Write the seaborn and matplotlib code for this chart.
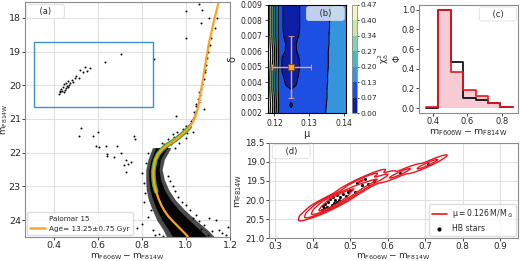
import matplotlib
matplotlib.use("Agg")
import matplotlib.pyplot as plt
import seaborn as sns
import numpy as np
from matplotlib.lines import Line2D
from matplotlib.patches import Rectangle

sns.set_style("whitegrid", {"axes.edgecolor": "0.55", "grid.color": "0.88",
                            "xtick.bottom": True, "ytick.left": True})
plt.rcParams.update({"xtick.major.size": 2.5, "ytick.major.size": 2.5,
                     "xtick.major.width": 0.6, "ytick.major.width": 0.6,
                     "xtick.major.pad": 1.5, "ytick.major.pad": 1.5,
                     "axes.linewidth": 0.8, "mathtext.default": "regular"})

# ---------------- panel (a): CMD of Palomar 15 ----------------
iso_color = [1.150, 1.128, 1.105, 1.090, 1.075, 1.063, 1.053, 1.042, 1.031, 1.016,
             0.994, 0.975, 0.957, 0.935, 0.912, 0.892, 0.875, 0.862, 0.855, 0.852,
             0.853, 0.857, 0.865, 0.875, 0.888, 0.904, 0.922, 0.942, 0.963, 0.986, 1.008]
iso_mag = [17.50, 18.06, 18.74, 19.30, 19.92, 20.35, 20.70, 20.95, 21.10, 21.24,
           21.39, 21.50, 21.59, 21.69, 21.79, 21.90, 22.03, 22.20, 22.40, 22.57,
           22.75, 22.96, 23.15, 23.35, 23.55, 23.74, 23.90, 24.04, 24.18, 24.33, 24.48]

# dense main sequence: outer and core envelopes
ms_mag = [21.85, 22.2, 22.5, 22.8, 23.1, 23.4, 23.7, 24.0, 24.3, 24.5]
ms_blue = [0.848, 0.828, 0.818, 0.818, 0.820, 0.830, 0.848, 0.868, 0.898, 0.912]
ms_red = [0.932, 0.902, 0.892, 0.902, 0.922, 0.952, 0.995, 1.045, 1.100, 1.130]
core_blue = [0.862, 0.842, 0.832, 0.832, 0.837, 0.850, 0.868, 0.892, 0.922, 0.940]
core_red = [0.915, 0.884, 0.878, 0.885, 0.902, 0.930, 0.968, 1.015, 1.065, 1.095]

# horizontal branch stars (shared by panels a and d)
hb_color = [0.707, 0.633, 0.564, 0.540, 0.549, 0.531, 0.518, 0.513, 0.500, 0.495,
            0.482, 0.473, 0.465, 0.464, 0.460, 0.451, 0.447, 0.442, 0.438, 0.433,
            0.427, 0.424, 0.455, 0.470, 0.445, 0.430, 0.490, 0.458]
hb_mag = [19.06, 19.30, 19.49, 19.45, 19.58, 19.60, 19.55, 19.78, 19.73, 19.79,
          19.84, 19.92, 19.88, 20.05, 20.01, 20.14, 19.97, 20.05, 20.18, 20.11,
          20.16, 20.27, 19.93, 20.00, 20.20, 20.20, 19.90, 20.08]

rgb_color = [1.030, 1.040, 1.045, 1.050, 1.060, 1.055, 1.065, 1.070, 1.060, 1.080,
             1.085, 1.090, 1.095, 1.100, 1.110, 1.115, 1.130, 1.140, 1.020, 1.000,
             1.035, 0.957, 1.068, 1.075, 1.000, 1.060, 1.105, 1.000, 1.098, 1.083,
             1.045, 1.025, 1.072, 1.088, 0.855, 1.038, 1.048, 1.058, 1.022, 1.012]
rgb_mag = [21.00, 20.85, 20.75, 20.60, 20.50, 20.40, 20.30, 20.10, 20.20, 19.80,
           19.60, 19.40, 19.20, 19.00, 18.80, 18.60, 18.30, 18.00, 21.15, 21.20,
           20.95, 20.90, 18.16, 17.76, 17.80, 17.60, 18.00, 18.60, 18.84, 20.70,
           20.55, 21.05, 19.95, 19.55, 19.21, 20.80, 20.62, 20.45, 21.12, 21.28]

field_color = [0.525, 0.513, 0.577, 0.600, 0.592, 0.607, 0.641, 0.644, 0.689, 0.674,
               0.726, 0.736, 0.718, 0.763, 0.770, 0.637, 0.707, 0.751, 0.730]
field_mag = [21.26, 21.49, 21.50, 21.39, 21.79, 21.83, 22.03, 22.10, 21.79, 22.13,
             22.23, 22.34, 22.37, 21.49, 21.59, 21.79, 22.01, 22.27, 22.57]

edge_color = [1.060, 1.083, 1.120, 1.165, 1.105, 1.135, 1.046, 1.150, 1.180, 1.100,
              1.070, 1.020, 1.000, 0.980, 1.030, 0.965, 0.950, 0.940, 0.930, 0.920,
              0.778, 0.808, 0.830, 0.800, 0.850, 0.860, 0.810, 0.800, 0.820, 0.830,
              0.815, 0.840, 0.940, 0.970, 0.920, 0.900, 1.000, 0.985, 0.950, 0.880,
              0.960, 1.020, 1.030, 1.190, 0.880, 0.895, 0.925, 0.945, 0.965, 0.985,
              0.905, 0.890, 0.870, 0.862, 0.955, 0.932, 1.005, 0.915]
edge_mag = [24.04, 24.14, 24.33, 24.38, 23.94, 23.99, 23.84, 24.28, 24.45, 24.45,
            24.25, 23.70, 23.55, 23.45, 23.95, 23.30, 23.15, 23.00, 22.85, 22.70,
            24.24, 23.45, 23.90, 24.10, 24.30, 24.45, 22.90, 22.60, 22.30, 22.00,
            23.20, 23.70, 21.45, 21.70, 21.60, 21.75, 21.55, 21.30, 21.85, 21.90,
            21.40, 21.25, 21.40, 24.20, 24.40, 24.48, 21.68, 21.52, 21.48, 21.36,
            21.80, 21.70, 21.95, 22.10, 21.62, 21.75, 21.42, 21.86]

# ---------------- panel (b): chi2 map ----------------
mu_grid = [0.1180, 0.1187, 0.1193, 0.1199, 0.1205, 0.1212, 0.1222, 0.1233,
           0.1248, 0.1262, 0.1272, 0.1290, 0.1320, 0.1355, 0.1405]
delta_grid = [0.0020, 0.0025, 0.0030, 0.0035, 0.0040, 0.0045, 0.0050, 0.0055,
              0.0060, 0.0065, 0.0070, 0.0075, 0.0080, 0.0085, 0.0090]
chi2 = [
    [0.46, 0.41, 0.35, 0.28, 0.20, 0.130, 0.092, 0.082, 0.078, 0.082, 0.090, 0.102, 0.120, 0.138, 0.160],
    [0.46, 0.42, 0.36, 0.29, 0.21, 0.135, 0.090, 0.080, 0.062, 0.080, 0.088, 0.100, 0.119, 0.137, 0.160],
    [0.46, 0.41, 0.35, 0.28, 0.20, 0.130, 0.090, 0.080, 0.075, 0.080, 0.088, 0.100, 0.118, 0.136, 0.160],
    [0.46, 0.40, 0.33, 0.26, 0.19, 0.125, 0.088, 0.074, 0.068, 0.074, 0.087, 0.100, 0.118, 0.136, 0.160],
    [0.46, 0.40, 0.33, 0.26, 0.19, 0.125, 0.080, 0.062, 0.052, 0.062, 0.080, 0.100, 0.118, 0.135, 0.160],
    [0.46, 0.40, 0.33, 0.26, 0.19, 0.125, 0.070, 0.054, 0.046, 0.054, 0.072, 0.100, 0.118, 0.135, 0.160],
    [0.46, 0.41, 0.34, 0.27, 0.20, 0.128, 0.062, 0.048, 0.042, 0.050, 0.066, 0.099, 0.117, 0.134, 0.160],
    [0.46, 0.42, 0.36, 0.29, 0.21, 0.132, 0.064, 0.050, 0.044, 0.052, 0.068, 0.099, 0.117, 0.134, 0.160],
    [0.46, 0.42, 0.36, 0.29, 0.21, 0.130, 0.080, 0.064, 0.054, 0.064, 0.080, 0.100, 0.117, 0.134, 0.160],
    [0.46, 0.41, 0.34, 0.27, 0.20, 0.127, 0.082, 0.066, 0.056, 0.066, 0.080, 0.100, 0.117, 0.133, 0.160],
    [0.46, 0.40, 0.33, 0.26, 0.19, 0.125, 0.074, 0.056, 0.048, 0.055, 0.070, 0.098, 0.116, 0.133, 0.160],
    [0.46, 0.40, 0.33, 0.26, 0.19, 0.125, 0.072, 0.052, 0.046, 0.052, 0.066, 0.098, 0.116, 0.132, 0.160],
    [0.46, 0.40, 0.33, 0.26, 0.19, 0.125, 0.072, 0.052, 0.046, 0.052, 0.066, 0.098, 0.115, 0.132, 0.160],
    [0.46, 0.40, 0.33, 0.26, 0.19, 0.125, 0.072, 0.052, 0.046, 0.052, 0.066, 0.098, 0.115, 0.131, 0.160],
    [0.46, 0.40, 0.33, 0.26, 0.19, 0.125, 0.072, 0.052, 0.046, 0.052, 0.066, 0.098, 0.115, 0.131, 0.160],
]
chi2_levels = [0.0, 0.067, 0.134, 0.201, 0.269, 0.336, 0.403, 0.47]
chi2_colors = ["#0c1ea6", "#1c4fe2", "#3495de", "#46b9c8", "#82d1b0", "#c8e8a6", "#f4f6c2"]
best_mu, best_delta = 0.1248, 0.005
mu_err, delta_err = 0.0056, 0.002

# ---------------- panel (c): colour distributions ----------------
bin_edges = [0.360, 0.432, 0.504, 0.577, 0.649, 0.721, 0.793, 0.865]
phi_obs = [0.00, 1.00, 0.47, 0.10, 0.08, 0.05, 0.01]
phi_model = [0.01, 1.00, 0.37, 0.18, 0.12, 0.05, 0.01]

ORANGE = "#ffa124"
GREEN = "#3caa32"
RED = "#e8161e"
xlab = r"$\mathrm{m_{F606W} - m_{F814W}}$"
ylab = r"$\mathrm{m_{F814W}}$"

fig = plt.figure(figsize=(5.2, 2.61), dpi=100)
W, H = 520.0, 261.0


def box(l, t, r, b):
    return [l / W, 1 - b / H, (r - l) / W, (b - t) / H]


def tag(ax, text, x, y, fc="white"):
    ax.text(x, y, "    " + text + "    ", transform=ax.transAxes, ha="center",
            va="center", fontsize=6, zorder=10,
            bbox=dict(boxstyle="round,pad=0.3", fc=fc, ec="0.85", alpha=0.85, lw=0.6))


# ---- (a)
axa = fig.add_axes(box(25, 2, 230, 237))
axa.fill_betweenx(ms_mag, ms_blue, ms_red, color="k", alpha=0.7, lw=0)
axa.fill_betweenx(ms_mag, core_blue, core_red, color="k", alpha=0.95, lw=0)
for xs, ys in [(edge_color, edge_mag), (rgb_color, rgb_mag),
               (field_color, field_mag), (hb_color, hb_mag)]:
    sns.scatterplot(x=xs, y=ys, ax=axa, color="k", s=2, linewidth=0)
green_c = [c for c, m in zip(iso_color, iso_mag) if 21.2 <= m <= 23.2]
green_m = [m for m in iso_mag if 21.2 <= m <= 23.2]
sns.lineplot(x=green_c, y=green_m, ax=axa, sort=False, estimator=None,
             color=GREEN, lw=3.4)
sns.lineplot(x=iso_color, y=iso_mag, ax=axa, sort=False, estimator=None,
             color=ORANGE, lw=1.6)
axa.add_patch(Rectangle((0.31, 18.72), 0.54, 1.93, fill=False,
                        ec="#3d8fd6", lw=1.0))
axa.set_xlim(0.27, 1.2)
axa.set_ylim(24.5, 17.53)
axa.set_xticks([0.4, 0.6, 0.8, 1.0, 1.2])
axa.set_yticks([18, 19, 20, 21, 22, 23, 24])
axa.tick_params(labelsize=6.8, length=2, pad=1)
axa.set_xlabel(xlab, fontsize=6.5)
axa.set_ylabel(ylab, fontsize=6.3)
axa.xaxis.set_label_coords(0.5, -(252 - 237) / 235.0)
axa.yaxis.set_label_coords(-(25 - 9.6) / 205.0, 0.5)
handles = [Line2D([], [], ls="none"), Line2D([], [], color=ORANGE, lw=1.8)]
axa.legend(handles, ["Palomar 15", "Age= 13.25±0.75 Gyr"], loc="lower left",
           fontsize=5.2, borderaxespad=0.25, handlelength=2.0, handletextpad=0.6,
           framealpha=0.85, edgecolor="0.85", borderpad=0.5)
tag(axa, "(a)", 0.1, 0.96)

# ---- (b)
axb = fig.add_axes(box(267.5, 4.7, 345.7, 113))
cf = axb.contourf(mu_grid, delta_grid, chi2, levels=chi2_levels, colors=chi2_colors)
axb.contour(mu_grid, delta_grid, chi2, levels=chi2_levels[1:-1], colors="k",
            linewidths=0.8)
axb.errorbar(best_mu, best_delta, xerr=mu_err, yerr=delta_err, fmt="s",
             color=ORANGE, ecolor="#f2a47c", elinewidth=1.0, capsize=2.5,
             ms=4.5, mec="#7a4a10", mew=0.6)
axb.set_xlim(0.118, 0.1405)
axb.set_ylim(0.002, 0.009)
axb.set_xticks([0.12, 0.13, 0.14])
axb.set_yticks([0.002, 0.003, 0.004, 0.005, 0.006, 0.007, 0.008, 0.009])
axb.grid(False)
for s in axb.spines.values():
    s.set_color("k")
axb.tick_params(labelsize=5.5)
axb.set_xlabel(r"$\mu$", fontsize=7, labelpad=1)
axb.set_ylabel(r"$\delta$", fontsize=7, labelpad=1.5)
tag(axb, "(b)", 0.74, 0.919, fc="#dde6f2")

cax = fig.add_axes(box(351.7, 4.7, 357.3, 113))
cb = fig.colorbar(cf, cax=cax, ticks=chi2_levels)
cb.ax.set_yticklabels(["%.2f" % v for v in chi2_levels])
cb.ax.tick_params(labelsize=5.3, length=1.5, pad=0.6)
cb.outline.set_linewidth(0.6)
cb.set_label(r"$\chi^2_\delta$", fontsize=6.3)
cb.ax.yaxis.set_label_coords((376.5 - 351.7) / 5.6, 0.5)

# ---- (c)
axc = fig.add_axes(box(419, 4.7, 518, 113))
centers = [(a + b) / 2 for a, b in zip(bin_edges[:-1], bin_edges[1:])]
sns.histplot(x=centers, weights=phi_model, bins=bin_edges, element="step",
             fill=True, color="crimson", alpha=0.22, lw=0, ax=axc)
sns.histplot(x=centers, weights=phi_obs, bins=bin_edges, element="step",
             fill=False, color="k", lw=1.2, ax=axc)
sns.histplot(x=centers, weights=phi_model, bins=bin_edges, element="step",
             fill=False, color=RED, lw=1.2, ax=axc)
axc.set_xlim(0.32, 0.895)
axc.set_ylim(-0.05, 1.05)
axc.set_xticks([0.4, 0.6, 0.8])
axc.set_yticks([0.0, 0.2, 0.4, 0.6, 0.8, 1.0])
axc.grid(False)
axc.tick_params(labelsize=6, length=2, pad=1)
axc.set_xlabel(xlab, fontsize=6.8, labelpad=1)
axc.set_ylabel(r"$\Phi$", fontsize=6.5)
axc.yaxis.set_label_coords(-(419 - 402.5) / 99.0, 0.5)
tag(axc, "(c)", 0.796, 0.914)

# ---- (d)
axd = fig.add_axes(box(269, 142.7, 518, 238.3))
sns.kdeplot(x=hb_color, y=hb_mag, ax=axd, levels=[0.02, 0.1, 0.3, 0.6],
            bw_adjust=0.75, color=RED, linewidths=1.0)
sns.scatterplot(x=hb_color, y=hb_mag, ax=axd, color="k", s=5, linewidth=0)
axd.set_xlim(0.284, 0.948)
axd.set_ylim(21.0, 18.5)
axd.set_xticks([0.3, 0.4, 0.5, 0.6, 0.7, 0.8, 0.9])
axd.set_yticks([18.5, 19.0, 19.5, 20.0, 20.5, 21.0])
axd.tick_params(labelsize=6.3, length=2, pad=1)
axd.set_xlabel(xlab, fontsize=6.5)
axd.set_ylabel(ylab, fontsize=6.8, labelpad=1)
axd.xaxis.set_label_coords(0.5, -(251.8 - 238.3) / 95.6)
hd = [Line2D([], [], color=RED, lw=1.2),
      Line2D([], [], ls="none", marker="o", color="k", ms=2)]
axd.legend(hd, [r"$\mu = 0.126\,\mathrm{M/M_\odot}$", "HB stars"],
           loc="lower right", fontsize=5.6, borderaxespad=0.25, handlelength=2.0,
           handletextpad=0.6, framealpha=0.85, edgecolor="0.85")
tag(axd, "(d)", 0.089, 0.906)

fig.savefig("out.png", dpi=100)
